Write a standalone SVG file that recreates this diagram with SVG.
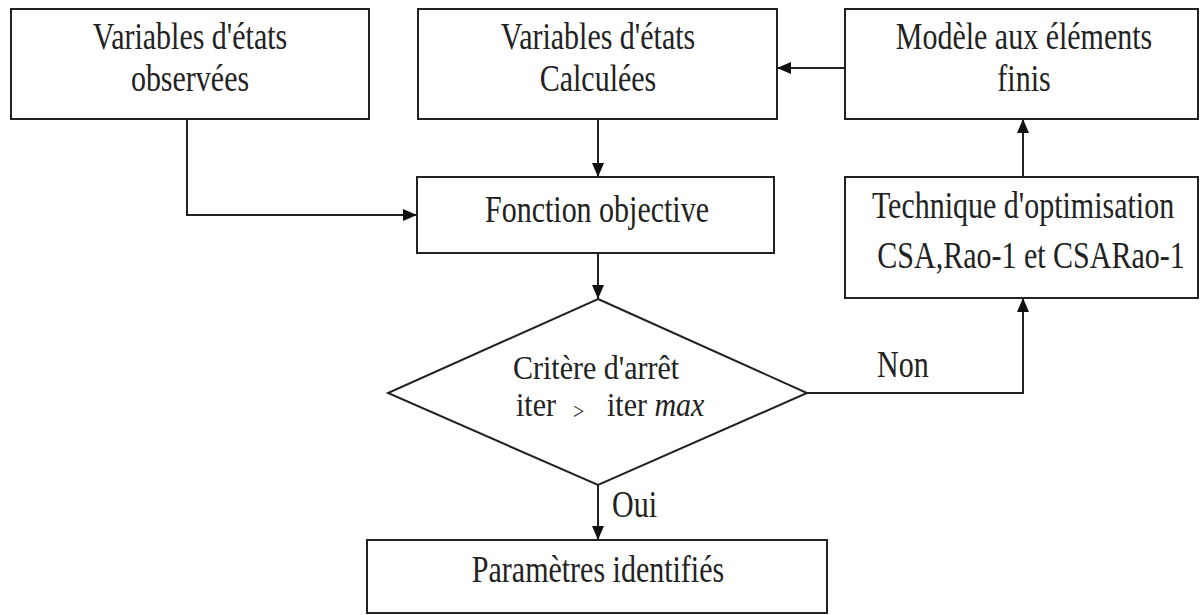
<svg xmlns="http://www.w3.org/2000/svg" width="1200" height="615" viewBox="0 0 1200 615">
  <style>
    .box { fill: #ffffff; stroke: #222222; stroke-width: 2; }
    .wire { fill: none; stroke: #222222; stroke-width: 2; }
    .lbl { font-family: "Liberation Serif", "DejaVu Serif", serif; font-size: 30px; fill: #222222; text-anchor: middle; }
    .lft { text-anchor: start; }
  </style>
  <defs>
    <marker id="arrow" markerWidth="14" markerHeight="12" refX="14" refY="6" orient="auto" markerUnits="userSpaceOnUse">
      <path d="M0,0 L14,6 L0,12 Z" fill="#111111"/>
    </marker>
  </defs>
  <rect width="1200" height="615" fill="#ffffff"/>

  <!-- connectors -->
  <g id="connectors">
    <polyline class="wire" points="187,119 187,215 417,215" marker-end="url(#arrow)"/>
    <line class="wire" x1="598" y1="120" x2="598" y2="177" marker-end="url(#arrow)"/>
    <line class="wire" x1="845" y1="68" x2="777" y2="68" marker-end="url(#arrow)"/>
    <line class="wire" x1="1023" y1="177" x2="1023" y2="119" marker-end="url(#arrow)"/>
    <line class="wire" x1="598" y1="253" x2="598" y2="299" marker-end="url(#arrow)"/>
    <polyline class="wire" points="807,393 1023,393 1023,298" marker-end="url(#arrow)"/>
    <line class="wire" x1="598" y1="485" x2="598" y2="540" marker-end="url(#arrow)"/>
    <text class="lbl lft" transform="translate(877,377) scale(1,1.25)">Non</text>
    <text class="lbl lft" transform="translate(612,517) scale(1,1.25)">Oui</text>
  </g>

  <g id="observed">
    <rect class="box" x="11" y="9" width="358" height="110"/>
    <text class="lbl" transform="translate(190,49) scale(1,1.25)">Variables d'états<tspan x="0" dy="33.6">observées</tspan></text>
  </g>

  <g id="computed">
    <rect class="box" x="418" y="9" width="359" height="110"/>
    <text class="lbl" transform="translate(598,49) scale(1,1.25)">Variables d'états<tspan x="0" dy="33.6">Calculées</tspan></text>
  </g>

  <g id="fem-model">
    <rect class="box" x="845" y="9" width="353" height="110"/>
    <text class="lbl" transform="translate(1024,49) scale(1,1.25)">Modèle aux éléments<tspan x="0" dy="33.6">finis</tspan></text>
  </g>

  <g id="objective">
    <rect class="box" x="417" y="177" width="357" height="76"/>
    <text class="lbl" transform="translate(597,222) scale(1,1.25)">Fonction objective</text>
  </g>

  <g id="optimisation">
    <rect class="box" x="845" y="177" width="353" height="121"/>
    <text class="lbl" transform="translate(1023,218) scale(1,1.25)">Technique d'optimisation<tspan x="8" dy="40">CSA,Rao-1 et CSARao-1</tspan></text>
  </g>

  <g id="stop-criterion">
    <polygon class="box" points="598,299 807,393 598,485 388,393"/>
    <text class="lbl lft" transform="translate(513,379) scale(1,1.15)">Critère d'arrêt</text>
    <text class="lbl lft" transform="translate(516,416) scale(1,1.15)">iter<tspan x="57" dy="3" style="font-size:20px">&gt;</tspan><tspan x="91" dy="-3">iter <tspan font-style="italic">max</tspan></tspan></text>
  </g>

  <g id="identified">
    <rect class="box" x="367" y="540" width="460" height="73"/>
    <text class="lbl" transform="translate(598,582) scale(1,1.25)">Paramètres identifiés</text>
  </g>
</svg>
